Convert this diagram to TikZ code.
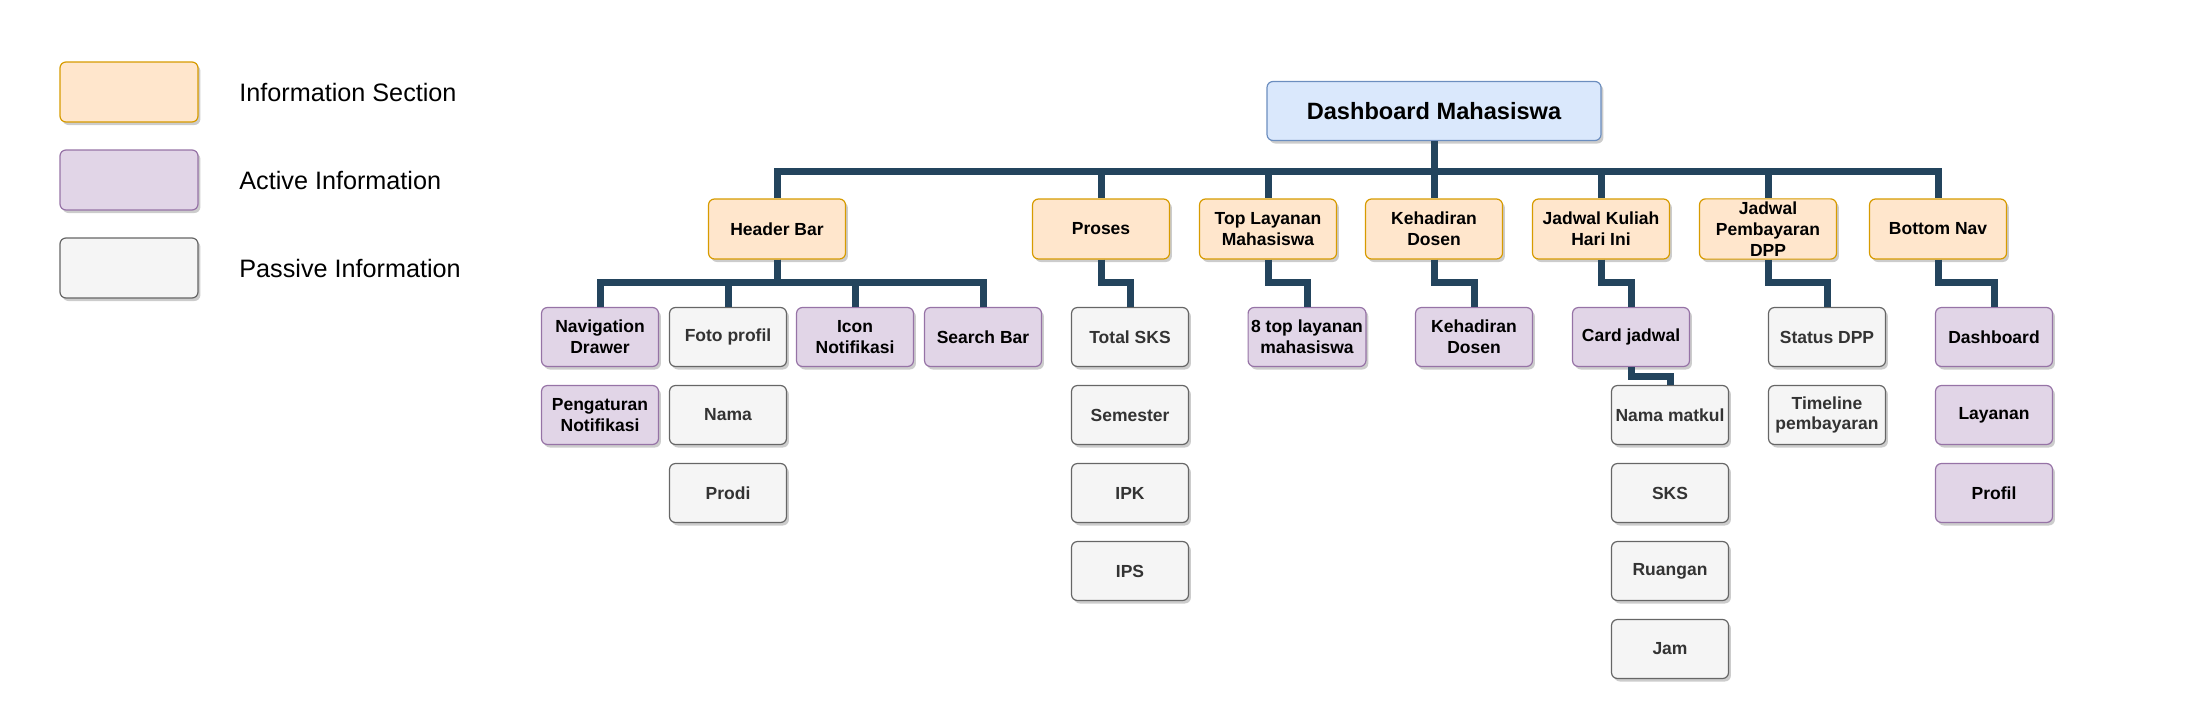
\documentclass[tikz,border=0pt]{standalone}
\usepackage{fontspec}
\setmainfont{Liberation Sans}
\usetikzlibrary{shadows}
\definecolor{secfill}{HTML}{FFE6CC}
\definecolor{secline}{HTML}{D79B00}
\definecolor{actfill}{HTML}{E1D5E7}
\definecolor{actline}{HTML}{9673A6}
\definecolor{pasfill}{HTML}{F5F5F5}
\definecolor{pasline}{HTML}{666666}
\definecolor{rootfill}{HTML}{DAE8FC}
\definecolor{rootline}{HTML}{6C8EBF}
\definecolor{linkcol}{HTML}{23445D}
\begin{document}
\begin{tikzpicture}[
	x=0.5pt, y=-0.5pt,
	box/.style={
		draw, rounded corners=3pt, align=center, inner sep=1.5pt, line width=0.6pt,
		font=\fontsize{8.75}{10.4}\selectfont\bfseries,
		drop shadow={shadow xshift=1.2pt, shadow yshift=-1.5pt, fill=black, opacity=0.2}
	},
	secbox/.style={box, fill=secfill, draw=secline, minimum width=68.5pt, minimum height=30pt},
	actbox/.style={box, fill=actfill, draw=actline, minimum width=58.5pt, minimum height=29.5pt},
	pasbox/.style={box, fill=pasfill, draw=pasline, text=black!80, minimum width=58.5pt, minimum height=29.5pt},
	rootbox/.style={box, fill=rootfill, draw=rootline, minimum width=167pt, minimum height=29.5pt,
		font=\fontsize{11.8}{14}\selectfont\bfseries},
	legbox/.style={box, minimum width=69pt, minimum height=30pt},
	legtext/.style={anchor=west, inner sep=0pt, font=\fontsize{12.6}{15}\selectfont},
	link/.style={draw=linkcol, line width=3.5pt}
]
	\useasboundingbox (0, 0) rectangle (2210, 718);

	% Legend
	\node[legbox, fill=secfill, draw=secline] (lsec) at (129, 92) {};
	\node[legbox, fill=actfill, draw=actline] (lact) at (129, 180) {};
	\node[legbox, fill=pasfill, draw=pasline] (lpas) at (129, 268) {};
	\node[legtext] (tsec) at (239, 92) {Information Section};
	\node[legtext] (tact) at (239, 180) {Active Information};
	\node[legtext] (tpas) at (239, 268) {Passive Information};

	% Root and sections
	\node[rootbox] (root) at (1434, 111) {Dashboard Mahasiswa};
	\node[secbox] (hdr) at (777, 229) {Header Bar};
	\node[secbox] (pro) at (1101, 229) {Proses};
	\node[secbox] (top) at (1268, 229) {Top Layanan\\Mahasiswa};
	\node[secbox] (keh) at (1434, 229) {Kehadiran\\Dosen};
	\node[secbox] (jad) at (1601, 229) {Jadwal Kuliah\\Hari Ini};
	\node[secbox] (bay) at (1768, 229) {Jadwal\\Pembayaran\\DPP};
	\node[secbox] (bot) at (1938, 229) {Bottom Nav};

	% Header Bar items
	\node[actbox] (nav) at (600, 337) {Navigation\\Drawer};
	\node[pasbox] (foto) at (728, 337) {Foto profil};
	\node[actbox] (icon) at (855, 337) {Icon\\Notifikasi};
	\node[actbox] (search) at (983, 337) {Search Bar};
	\node[actbox] (peng) at (600, 415) {Pengaturan\\Notifikasi};
	\node[pasbox] (nama) at (728, 415) {Nama};
	\node[pasbox] (prodi) at (728, 493) {Prodi};

	% Proses items
	\foreach \t [count=\i] in {Total SKS, Semester, IPK, IPS}
		\node[pasbox] (pr\i) at (1130, {259+78*\i}) {\t};

	\node[actbox] (lay) at (1307, 337) {8 top layanan\\mahasiswa};
	\node[actbox] (dos) at (1474, 337) {Kehadiran\\Dosen};
	\node[actbox] (card) at (1631, 337) {Card jadwal};
	\foreach \t [count=\i] in {Nama matkul, SKS, Ruangan, Jam}
		\node[pasbox] (cj\i) at (1670, {337+78*\i}) {\t};
	\node[pasbox] (dpp) at (1827, 337) {Status DPP};
	\node[pasbox] (tml) at (1827, 415) {Timeline\\pembayaran};
	\foreach \t [count=\i] in {Dashboard, Layanan, Profil}
		\node[actbox] (nv\i) at (1994, {259+78*\i}) {\t};

	% Connectors
	\foreach \n in {hdr, pro, top, keh, jad, bay, bot}
		\draw[link] (root.south) -- ++(0, 30) -| (\n.north);
	\foreach \n in {nav, foto, icon, search}
		\draw[link] (hdr.south) -- ++(0, 23) -| (\n.north);
	\draw[link] (pro.south) -- ++(0, 23) -| (pr1.north);
	\draw[link] (top.south) -- ++(0, 23) -| (lay.north);
	\draw[link] (keh.south) -- ++(0, 23) -| (dos.north);
	\draw[link] (jad.south) -- ++(0, 23) -| (card.north);
	\draw[link] (card.south) -- ++(0, 9) -| (cj1.north);
	\draw[link] (bay.south) -- ++(0, 23) -| (dpp.north);
	\draw[link] (bot.south) -- ++(0, 23) -| (nv1.north);
\end{tikzpicture}
\end{document}
